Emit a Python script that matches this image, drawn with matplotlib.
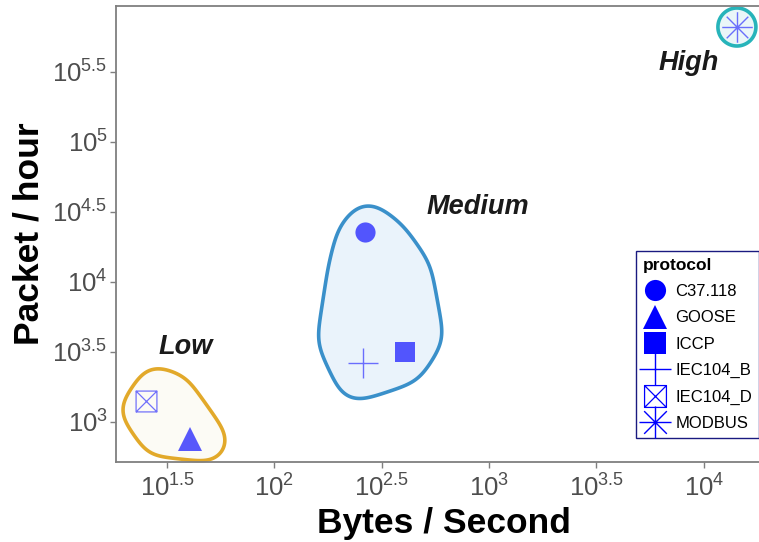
import numpy as np
import matplotlib
matplotlib.use("Agg")
import matplotlib.pyplot as plt
from matplotlib.path import Path
from matplotlib.lines import Line2D
from matplotlib.patches import Polygon

plt.rcParams['font.family'] = ['Liberation Sans', 'DejaVu Sans']
plt.rcParams['mathtext.fontset'] = 'custom'
plt.rcParams['mathtext.rm'] = 'Liberation Sans'
plt.rcParams['mathtext.it'] = 'Liberation Sans:italic'
plt.rcParams['mathtext.bf'] = 'Liberation Sans:bold'

# ---- data (log10 units) ----
protocols = ["C37.118", "GOOSE", "ICCP", "IEC104_B", "IEC104_D", "MODBUS"]
log_bytes_per_sec = [2.421, 1.606, 2.610, 2.412, 1.401, 4.154]
log_packets_per_hour = [4.357, 2.876, 3.500, 3.419, 3.146, 5.819]

# group outlines (estimated spread of the underlying observations, log10 units)
groups = ["Low", "Medium", "High"]
low_obs_x = [1.452, 1.527, 1.611, 1.681, 1.466, 1.383]
low_obs_y = [3.241, 3.198, 3.019, 2.864, 2.900, 3.084]
medium_obs_x = [2.435, 2.530, 2.635, 2.690, 2.608, 2.384, 2.296, 2.347, 2.385]
medium_obs_y = [4.411, 4.300, 4.070, 3.610, 3.412, 3.298, 3.584, 4.091, 4.318]
high_obs_x = [4.154]
high_obs_y = [5.819]
group_label_x = [1.588, 2.948, 3.930]
group_label_y = [3.534, 4.534, 5.562]

x_ticks = [1.5, 2.0, 2.5, 3.0, 3.5, 4.0]
y_ticks = [3.0, 3.5, 4.0, 4.5, 5.0, 5.5]

# ---- style ----
W, H = 759, 542
fig = plt.figure(figsize=(W / 100, H / 100), dpi=100)
ax_l, ax_r, ax_t, ax_b = 116, 772, 6, 462
ax = fig.add_axes([ax_l / W, 1 - ax_b / H, (ax_r - ax_l) / W, (ax_b - ax_t) / H])
ax.set_xscale('log')
ax.set_yscale('log')
ax.set_xlim(10 ** 1.262, 10 ** (1.262 + (ax_r - ax_l) / 214.7))
ax.set_ylim(10 ** 2.712, 10 ** 5.969)

frame_col = '#7F7F7F'
for s in ax.spines.values():
    s.set_color(frame_col)
    s.set_linewidth(1.3)
ax.set_facecolor('white')

def fmt(v):
    return r'$\mathregular{10^{%s}}$' % ('%g' % v)

ax.set_xticks([10 ** v for v in x_ticks])
ax.set_xticklabels([fmt(v) for v in x_ticks])
ax.set_yticks([10 ** v for v in y_ticks])
ax.set_yticklabels([fmt(v) for v in y_ticks])
ax.minorticks_off()
ax.tick_params(axis='both', which='major', length=4, width=1.0, color=frame_col,
               labelsize=18.5, labelcolor='#4D4D4D')
ax.tick_params(axis='x', pad=5)
ax.tick_params(axis='y', pad=2)

ax.set_xlabel('Bytes / Second', fontsize=25.5, fontweight='bold', labelpad=4)
ax.set_ylabel('Packet / hour', fontsize=25.5, fontweight='bold', labelpad=5)

# ---- smooth rounded hulls computed in pixel space ----
def convex_hull(pts):
    pts = sorted(map(tuple, pts))
    if len(pts) <= 2:
        return pts
    def cross(o, a, b):
        return (a[0] - o[0]) * (b[1] - o[1]) - (a[1] - o[1]) * (b[0] - o[0])
    lower, upper = [], []
    for p in pts:
        while len(lower) >= 2 and cross(lower[-2], lower[-1], p) <= 0:
            lower.pop()
        lower.append(p)
    for p in reversed(pts):
        while len(upper) >= 2 and cross(upper[-2], upper[-1], p) <= 0:
            upper.pop()
        upper.append(p)
    return lower[:-1] + upper[:-1]

def smooth_closed(poly, sigma):
    pts = np.vstack([poly, poly[:1]])
    seg = np.hypot(*np.diff(pts, axis=0).T)
    cum = np.concatenate([[0], np.cumsum(seg)])
    L = cum[-1]
    n = max(int(L), 60)
    s = np.linspace(0, L, n, endpoint=False)
    xs = np.interp(s, cum, pts[:, 0])
    ys = np.interp(s, cum, pts[:, 1])
    if sigma <= 0:
        return np.column_stack([xs, ys])
    step = L / n
    k = int(3 * sigma / step)
    t = np.arange(-k, k + 1) * step
    w = np.exp(-0.5 * (t / sigma) ** 2)
    w /= w.sum()
    xp = np.concatenate([xs[-k:], xs, xs[:k]])
    yp = np.concatenate([ys[-k:], ys, ys[:k]])
    return np.column_stack([np.convolve(xp, w, 'valid'), np.convolve(yp, w, 'valid')])

def rounded_hull(xs, ys, r_px, sigma):
    disp = ax.transData.transform(np.column_stack([10 ** np.array(xs), 10 ** np.array(ys)]))
    t = np.linspace(0, 2 * np.pi, 180, endpoint=False)
    circ = np.column_stack([np.cos(t), np.sin(t)]) * r_px
    pts = np.vstack([p + circ for p in disp])
    hull = np.array(convex_hull(pts))
    hull = smooth_closed(hull, sigma)
    return ax.transData.inverted().transform(hull)

hull_specs = [
    (low_obs_x, low_obs_y, '#E2A92A', '#FCFBF5', 21, 10),
    (medium_obs_x, medium_obs_y, '#3A90CA', '#EAF3FB', 21, 12),
    (high_obs_x, high_obs_y, '#27B4BA', '#EAF6F8', 19, 0),
]
for xs, ys, ec, fc, r, sg in hull_specs:
    poly = rounded_hull(xs, ys, r, sg)
    ax.add_patch(Polygon(poly, closed=True, facecolor=fc, edgecolor=ec,
                         linewidth=2.6, zorder=2, clip_on=False))

for g, lx, ly in zip(groups, group_label_x, group_label_y):
    ax.text(10 ** lx, 10 ** ly, g, fontsize=19.5, fontweight='bold', fontstyle='italic',
            color='#1a1a1a', ha='center', va='center', zorder=5)

# ---- markers ----
box_x = Path([(-1, -1), (1, -1), (1, 1), (-1, 1), (-1, -1), (1, 1), (-1, 1), (1, -1)],
             [Path.MOVETO, Path.LINETO, Path.LINETO, Path.LINETO, Path.LINETO,
              Path.LINETO, Path.MOVETO, Path.LINETO])
a = np.sqrt(0.5)
asterisk = Path([(-1, 0), (1, 0), (0, -1), (0, 1), (-a, -a), (a, a), (-a, a), (a, -a)],
                [Path.MOVETO, Path.LINETO] * 4)

marker_style = {
    "C37.118": dict(marker='o', ms=14.5, mew=0, filled=True),
    "GOOSE": dict(marker='^', ms=17, mew=0, filled=True),
    "ICCP": dict(marker='s', ms=15, mew=0, filled=True),
    "IEC104_B": dict(marker='+', ms=22, mew=1.0, filled=False),
    "IEC104_D": dict(marker=box_x, ms=15, mew=0.9, filled=False),
    "MODBUS": dict(marker=asterisk, ms=22, mew=1.0, filled=False),
}
blue = '#0000FF'
handles = []
for p, x, y in zip(protocols, log_bytes_per_sec, log_packets_per_hour):
    st = marker_style[p]
    if st['filled']:
        ax.plot(10 ** x, 10 ** y, linestyle='none', marker=st['marker'], ms=st['ms'],
                mfc=blue, mec=blue, mew=0, alpha=0.65, zorder=4, clip_on=False)
        h = Line2D([], [], linestyle='none', marker=st['marker'], ms=st['ms'] * 1.05,
                   mfc=blue, mec=blue, mew=0)
    else:
        ax.plot(10 ** x, 10 ** y, linestyle='none', marker=st['marker'], ms=st['ms'],
                mfc='none', mec=blue, mew=st['mew'], alpha=0.55, zorder=4, clip_on=False)
        h = Line2D([], [], linestyle='none', marker=st['marker'], ms=st['ms'] * 1.05,
                   mfc='none', mec=blue, mew=st['mew'])
    handles.append(h)

leg = ax.legend(handles, protocols, title='protocol', loc='upper left',
                bbox_to_anchor=(636 / W, 1 - 251 / H), bbox_transform=fig.transFigure,
                fontsize=12, title_fontproperties={'weight': 'bold', 'size': 12.5},
                frameon=True, fancybox=False, edgecolor='#1a1a80', framealpha=1,
                borderpad=0.4, labelspacing=0.68, handlelength=1.45, handletextpad=0.5,
                borderaxespad=0, markerscale=1.0)
leg._legend_box.align = 'left'
leg.get_frame().set_linewidth(1.0)
leg.set_zorder(10)

fig.savefig('out.png', dpi=100)
